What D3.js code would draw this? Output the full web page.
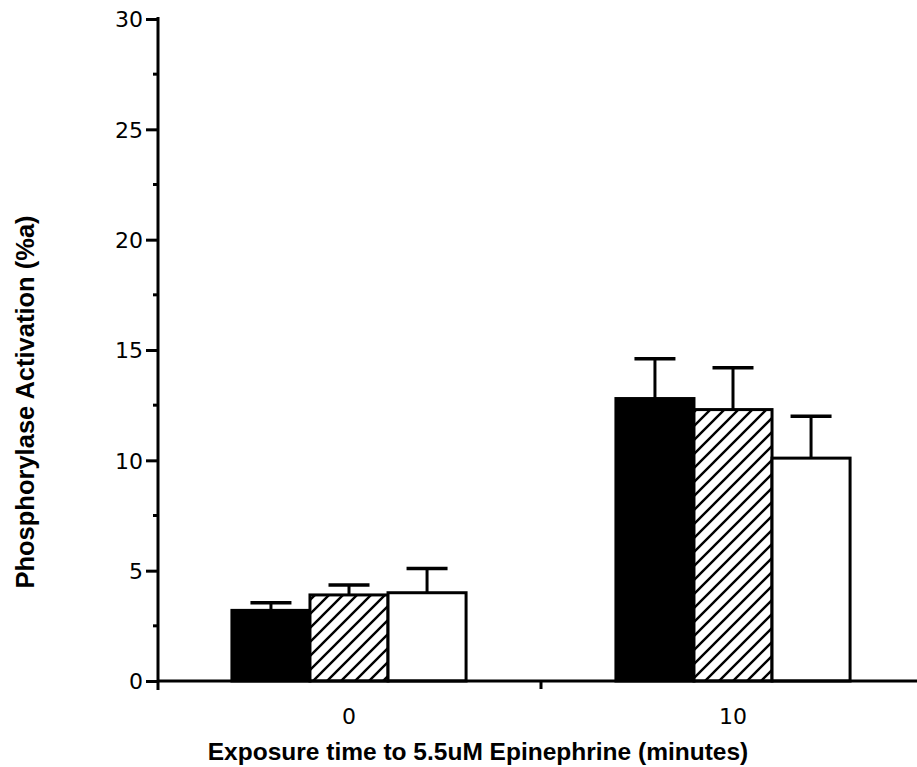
<!DOCTYPE html>
<html>
<head>
<meta charset="utf-8">
<script src="https://cdn.jsdelivr.net/npm/d3@7"></script>
<style>
  html, body { margin: 0; padding: 0; background: #fff; }
  svg { display: block; }
</style>
</head>
<body>
<svg id="chart" width="917" height="767"></svg>
<script>
// --- DATA ---
const categories = ["0", "10"];                       // exposure time (minutes)
const seriesNames = ["Series 1", "Series 2", "Series 3"]; // solid, hatched, open
const meanValues = {
    "Series 1": [3.2, 12.8],
    "Series 2": [3.9, 12.3],
    "Series 3": [4.0, 10.1]
};
const errorValues = {
    "Series 1": [0.35, 1.8],
    "Series 2": [0.45, 1.9],
    "Series 3": [1.1, 1.9]
};
const yTicks = [0, 5, 10, 15, 20, 25, 30];
const yMinorTicks = [2.5, 7.5, 12.5, 17.5, 22.5, 27.5];

// --- LAYOUT ---
const width = 917, height = 767;
const marginLeft = 158, marginTop = 19, marginBottom = 86;
const tickFont = "DejaVu Sans, sans-serif";
const titleFont = "Liberation Sans, Arial, sans-serif";

const svg = d3.select("#chart");

const y = d3.scaleLinear()
    .domain([0, 30])
    .range([height - marginBottom, marginTop]);

const x0 = d3.scaleBand()
    .domain(categories)
    .range([157, 925])
    .padding(0);

const x1 = d3.scaleBand()
    .domain(seriesNames)
    .range([0, x0.bandwidth()])
    .paddingInner(0)
    .paddingOuter(0.96);

// hatch pattern
const defs = svg.append("defs");
const hatch = defs.append("pattern")
    .attr("id", "hatch")
    .attr("patternUnits", "userSpaceOnUse")
    .attr("width", 14)
    .attr("height", 14);
hatch.append("rect").attr("width", 14).attr("height", 14).attr("fill", "#fff");
hatch.append("path")
    .attr("d", "M0,14L14,0M-3.5,3.5L3.5,-3.5M10.5,17.5L17.5,10.5")
    .attr("stroke", "#000")
    .attr("stroke-width", 2.4);

const FILLS = {
    "Series 1": "#000",
    "Series 2": "url(#hatch)",
    "Series 3": "#fff"
};

// flatten rows
const rows = [];
categories.forEach((c, i) => {
    seriesNames.forEach(s => {
        rows.push({ cat: c, series: s, value: meanValues[s][i], err: errorValues[s][i] });
    });
});

// --- ERROR BARS (drawn behind bars) ---
const capW = 41;
const errG = svg.append("g")
    .attr("stroke", "#000")
    .attr("stroke-width", 3);
rows.forEach(d => {
    const cx = x0(d.cat) + x1(d.series) + x1.bandwidth() / 2;
    errG.append("line")
        .attr("x1", cx).attr("x2", cx)
        .attr("y1", y(d.value)).attr("y2", y(d.value + d.err));
    errG.append("line")
        .attr("x1", cx - capW / 2).attr("x2", cx + capW / 2)
        .attr("y1", y(d.value + d.err)).attr("y2", y(d.value + d.err))
        .attr("stroke-width", 3.5);
});

// --- BARS ---
svg.append("g")
    .selectAll("rect")
    .data(rows)
    .join("rect")
        .attr("x", d => x0(d.cat) + x1(d.series))
        .attr("y", d => y(d.value))
        .attr("width", x1.bandwidth())
        .attr("height", d => y(0) - y(d.value))
        .attr("fill", d => FILLS[d.series])
        .attr("stroke", "#000")
        .attr("stroke-width", 3);

// --- Y AXIS ---
const yAxis = svg.append("g")
    .attr("transform", `translate(${marginLeft},0)`)
    .call(d3.axisLeft(y).tickValues(yTicks).tickSize(12).tickPadding(3).tickFormat(d3.format("d")))
    .call(g => g.select(".domain").remove())
    .call(g => g.selectAll(".tick line").attr("stroke-width", 3))
    .call(g => g.selectAll(".tick text")
        .attr("font-family", tickFont)
        .attr("font-size", 22)
        .attr("fill", "#000")
        .attr("dy", "0.36em"));

yAxis.selectAll(".minor")
    .data(yMinorTicks)
    .join("line")
        .attr("class", "minor")
        .attr("x1", -5).attr("x2", 0)
        .attr("y1", d => y(d)).attr("y2", d => y(d))
        .attr("stroke", "#000")
        .attr("stroke-width", 3);

yAxis.append("line")
    .attr("x1", 0).attr("x2", 0)
    .attr("y1", y(30) - 2).attr("y2", y(0) + 9)
    .attr("stroke", "#000")
    .attr("stroke-width", 3);

// --- X AXIS ---
const xAxis = svg.append("g")
    .attr("transform", `translate(0,${y(0)})`)
    .call(d3.axisBottom(x0).tickSize(0).tickPadding(27))
    .call(g => g.select(".domain").remove())
    .call(g => g.selectAll(".tick text")
        .attr("font-family", tickFont)
        .attr("font-size", 22)
        .attr("fill", "#000"));

xAxis.append("line")
    .attr("x1", marginLeft).attr("x2", width)
    .attr("y1", 0).attr("y2", 0)
    .attr("stroke", "#000")
    .attr("stroke-width", 3);

// divider tick between the two groups
xAxis.append("line")
    .attr("x1", x0("10")).attr("x2", x0("10"))
    .attr("y1", 0).attr("y2", 8)
    .attr("stroke", "#000")
    .attr("stroke-width", 3);

// --- AXIS TITLES ---
svg.append("text")
    .attr("x", 478)
    .attr("y", 760)
    .attr("text-anchor", "middle")
    .attr("font-family", titleFont)
    .attr("font-weight", "bold")
    .attr("font-size", 24.5)
    .text("Exposure time to 5.5uM Epinephrine (minutes)");

svg.append("text")
    .attr("transform", "translate(34,402) rotate(-90)")
    .attr("text-anchor", "middle")
    .attr("font-family", titleFont)
    .attr("font-weight", "bold")
    .attr("font-size", 25.5)
    .text("Phosphorylase Activation (%a)");
</script>
</body>
</html>
